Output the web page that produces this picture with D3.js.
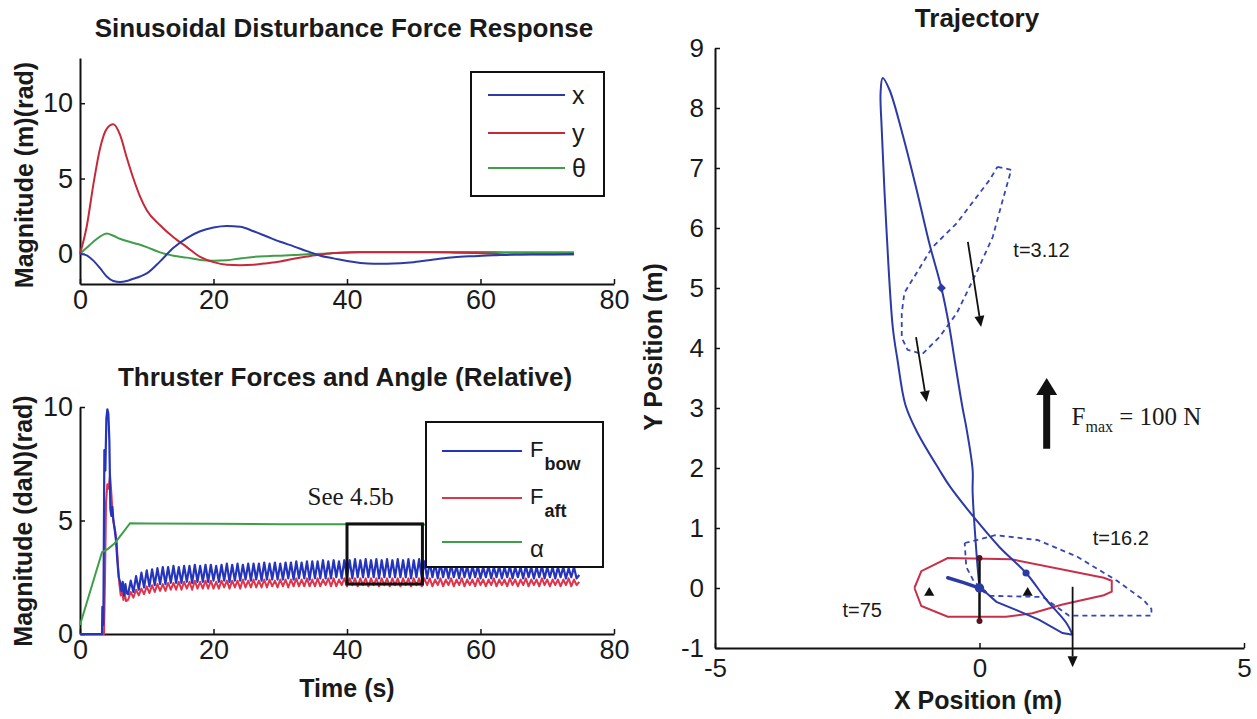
<!DOCTYPE html>
<html>
<head>
<meta charset="utf-8">
<script src="https://cdn.jsdelivr.net/npm/d3@7"></script>
<style>
  body { margin: 0; background: #ffffff; }
  svg { display: block; }
</style>
</head>
<body>
<svg id="fig" width="1257" height="719"></svg>
<script>
// ---------- Sinusoidal disturbance response (m, rad) ----------
const respTime  = [0,1,2,3,4,5,6,7,8,9,10,12,14,16,18,20,22,24,26,28,30,32,34,36,38,40,42,44,46,48,50,53,56,59,62,65,68,71,74];
const respX     = [0,-0.1,-0.45,-0.95,-1.5,-1.8,-1.87,-1.8,-1.65,-1.5,-1.3,-0.5,0.4,1.05,1.5,1.75,1.85,1.8,1.5,1.15,0.8,0.5,0.18,-0.12,-0.3,-0.48,-0.6,-0.65,-0.65,-0.62,-0.55,-0.38,-0.22,-0.15,-0.1,-0.05,-0.03,-0.02,0];
const respY     = [0,1.8,4.6,7.0,8.3,8.6,7.9,6.4,5.0,3.8,2.9,1.9,1.1,0.45,-0.2,-0.55,-0.72,-0.75,-0.72,-0.62,-0.5,-0.32,-0.18,-0.05,0.05,0.08,0.1,0.1,0.1,0.1,0.1,0.1,0.08,0.05,0.0,-0.05,-0.05,-0.05,-0.05];
const respTheta = [0,0.4,0.8,1.15,1.35,1.2,1.0,0.85,0.72,0.6,0.45,0.1,-0.12,-0.25,-0.4,-0.45,-0.42,-0.3,-0.2,-0.15,-0.12,-0.08,-0.03,0.0,0.05,0.1,0.12,0.12,0.12,0.12,0.12,0.12,0.12,0.12,0.12,0.1,0.1,0.1,0.1];
const respLegend = ["x", "y", "\u03B8"];
const timeTicks = [0, 20, 40, 60, 80];
const respYTicks = [0, 5, 10];

// ---------- Thruster forces (daN) and angle (rad) ----------
const bowTime = [0,3.3,3.35,3.5,3.65,3.8,3.95,4.1,4.25,4.4,4.55,4.7,4.85,5.0,5.2,5.4,5.6,5.8,6.0,6.2,6.4,6.6,6.8,7.0];
const bowVal  = [0,0,1.2,0.4,8.1,7.2,9.5,9.9,9.7,8.5,5.5,5.2,5.6,5.0,4.6,4.1,3.2,2.5,2.3,1.9,2.3,1.7,2.2,1.8];
const aftTime = [0,3.6,3.75,3.9,4.1,4.3,4.5,4.7,4.9,5.1,5.3,5.5,5.7,5.9,6.1,6.3,6.5,6.7,6.9];
const aftVal  = [0,0,2.5,5.8,6.6,6.4,7.0,6.2,5.2,4.8,4.5,4.0,3.0,2.2,1.7,1.9,1.5,1.8,1.45];
// steady oscillation, sampled every oscStep seconds from oscStart
const oscStart = 7.2;
const oscStep = 0.4;
const bowOsc = [
  1.75,2.35,1.85,2.55,1.95,2.7,2.05,2.8,2.1,2.85,
  2.15,2.9,2.2,2.95,2.2,2.95,2.25,3.0,2.25,2.95,
  2.25,3.0,2.3,3.0,2.25,3.05,2.3,3.0,2.3,3.05,
  2.3,3.05,2.35,3.0,2.3,3.05,2.35,3.1,2.3,3.05,
  2.35,3.1,2.35,3.05,2.4,3.1,2.35,3.1,2.4,3.1,
  2.35,3.15,2.4,3.1,2.4,3.15,2.4,3.1,2.4,3.15,
  2.45,3.15,2.4,3.2,2.45,3.15,2.45,3.2,2.4,3.2,
  2.45,3.2,2.45,3.25,2.45,3.2,2.45,3.25,2.5,3.2,
  2.45,3.25,2.5,3.25,2.45,3.3,2.5,3.25,2.5,3.3,
  2.5,3.25,2.5,3.3,2.45,3.25,2.5,3.3,2.5,3.25,
  2.5,3.3,2.5,3.25,2.5,3.3,2.45,3.25,2.5,3.3,
  2.5,3.2,2.45,3.15,2.5,3.1,2.45,3.1,2.5,3.05,
  2.45,3.05,2.5,3.0,2.45,3.05,2.5,3.0,2.45,3.0,
  2.5,3.0,2.45,2.95,2.5,3.0,2.45,2.95,2.5,3.0,
  2.45,2.95,2.5,3.0,2.45,2.95,2.5,2.95,2.45,3.0,
  2.5,2.95,2.45,2.95,2.5,3.0,2.45,2.95,2.5,2.95,
  2.45,2.95,2.5,2.95,2.45,2.9,2.5,2.95,2.45,2.6
];
const aftOsc = [
  1.5,1.85,1.6,1.95,1.7,2.0,1.75,2.1,1.8,2.15,
  1.85,2.2,1.9,2.2,1.9,2.25,1.95,2.25,1.95,2.3,
  1.95,2.3,2.0,2.3,1.95,2.35,2.0,2.3,2.0,2.35,
  2.0,2.35,2.0,2.3,2.0,2.35,2.05,2.35,2.0,2.35,
  2.05,2.35,2.0,2.4,2.05,2.35,2.05,2.4,2.05,2.35,
  2.05,2.4,2.05,2.4,2.1,2.35,2.05,2.4,2.1,2.4,
  2.05,2.4,2.1,2.45,2.1,2.4,2.1,2.45,2.1,2.4,
  2.1,2.45,2.1,2.4,2.15,2.45,2.1,2.45,2.1,2.4,
  2.15,2.45,2.1,2.45,2.15,2.45,2.1,2.45,2.15,2.45,
  2.1,2.45,2.15,2.45,2.1,2.45,2.15,2.45,2.1,2.45,
  2.15,2.45,2.1,2.45,2.15,2.45,2.1,2.45,2.15,2.45,
  2.1,2.45,2.15,2.45,2.1,2.4,2.15,2.45,2.1,2.4,
  2.15,2.45,2.1,2.4,2.15,2.45,2.1,2.4,2.15,2.4,
  2.1,2.45,2.15,2.4,2.1,2.4,2.15,2.45,2.1,2.4,
  2.15,2.4,2.1,2.45,2.15,2.4,2.1,2.4,2.15,2.45,
  2.1,2.4,2.15,2.4,2.1,2.45,2.15,2.4,2.1,2.4,
  2.15,2.4,2.1,2.4,2.15,2.45,2.1,2.4,2.15,2.3
];
const alphaTime = [0,3.3,4.2,5.2,6.4,7.5,10,20,30,40,50,60,74.8];
const alphaVal  = [0.4,3.6,3.75,4.0,4.45,4.88,4.87,4.86,4.84,4.83,4.82,4.81,4.8];
const thrustYTicks = [0, 5, 10];
const thrustLegend = [["F", "bow"], ["F", "aft"], ["\u03B1", ""]];
// zoom window marked "See 4.5b": [t0, t1] x [v0, v1]
const zoomBoxT = [40, 51.3];
const zoomBoxV = [2.2, 4.85];
const zoomNote = { t: 34.1, v: 5.68, text: "See 4.5b" };

// ---------- Trajectory (m) ----------
const pathX = [0,-0.05,-0.13,-0.13,-0.25,-0.32,-0.47,-0.57,-0.72,-0.95,-1.2,-1.46,-1.7,-1.83,-1.87,-1.85,-1.76,-1.64,-1.55,-1.4,-1.18,-0.76,-0.55,-0.06,0.38,0.88,1.27,1.64,1.76];
const pathY = [0,0.5,1.6,1.97,2.68,3.0,3.8,4.35,5.0,5.75,6.68,7.58,8.3,8.5,8.25,7.68,6.0,4.35,3.8,3.05,2.6,1.97,1.68,1.13,0.68,0.25,-0.2,-0.58,-0.78];
const returnX = [1.76,1.57,1.13,0.7,0.32,0.1];
const returnY = [-0.78,-0.75,-0.53,-0.37,-0.23,-0.06];
const settleX = [0.1,0,-0.3,-0.6];
const settleY = [-0.06,0,0.09,0.17];
// vessel outline at t=75 (solid) and at t=3.12, t=16.2 (dashed)
const hullX = [-1.23,-1.1,-0.6,0.6,2.35,2.5,2.5,2.35,1.55,1.0,0.5,-0.6,-1.1,-1.23];
const hullY = [0,0.28,0.5,0.48,0.17,0.12,-0.06,-0.12,-0.28,-0.42,-0.48,-0.48,-0.3,0];
const hull312X = [0.34,0.6,0.44,0.25,-0.06,-0.43,-0.76,-1.08,-1.36,-1.47,-1.47,-1.42,-0.89,-0.43,0.19,0.34];
const hull312Y = [7.02,6.97,6.47,5.85,5.25,4.58,4.18,3.9,3.97,4.17,4.58,4.92,5.68,6.08,6.8,7.02];
const hull162X = [-0.28,0.3,1.1,1.85,2.6,3.1,3.25,3.25,1.69,1.2,0.2,-0.1,-0.25,-0.28];
const hull162Y = [0.75,0.88,0.8,0.52,0.12,-0.2,-0.35,-0.46,-0.46,-0.15,-0.13,0.1,0.35,0.75];
const thrusterX = [-0.95, 0.91];
const thrusterY = [-0.08, -0.08];
const markX = [-0.72, 0.88, 0];
const markY = [5.0, 0.25, 0];
// thrust vectors: start (x, y) -> end (x, y)
const forceFromX = [-0.22, -1.2, 1.76];
const forceFromY = [5.77, 4.18, 0.02];
const forceToX   = [0.03, -1.0, 1.76];
const forceToY   = [4.35, 3.1, -1.32];
const centreLineX = [0, 0];
const centreLineY = [0.5, -0.55];
const scaleArrow = { x: 1.27, y0: 2.32, y1: 3.5 };
const scaleNote = { x: 1.74, y: 2.72 };
const timeNotes = [
  { x: 0.64, y: 5.52, text: "t=3.12" },
  { x: 2.14, y: 0.72, text: "t=16.2" },
  { x: -2.59, y: -0.48, text: "t=75" }
];
const trajXTicks = [-5, 0, 5];
const trajYTicks = [-1, 0, 1, 2, 3, 4, 5, 6, 7, 8, 9];

// ---------- drawing ----------
const SANS = '"Liberation Sans", Arial, Helvetica, sans-serif';
const NARROW = '"Liberation Sans Narrow", "Arial Narrow", "Liberation Sans", Arial, sans-serif';
const SERIF = '"Liberation Serif", "Times New Roman", serif';
const BLUE = "#2c3aa6", RED = "#c62a3a", GREEN = "#3f9e48";
const BOW = "#2434bc", AFT = "#e0344a", HULL = "#c8304a", DASH = "#3646b4";
const INK = "#111";

const svg = d3.select("#fig");
const plain = d => String(d);

function styleAxis(g, size) {
  g.attr("font-family", null).attr("font-size", null);
  g.select(".domain").attr("stroke", INK).attr("stroke-width", 2);
  g.selectAll(".tick line").attr("stroke", INK).attr("stroke-width", 1.5);
  g.selectAll(".tick text").attr("fill", "#1a1a1a")
    .style("font-family", NARROW).style("font-size", size + "px");
}

function title(x, y, txt) {
  svg.append("text").attr("x", x).attr("y", y).attr("text-anchor", "middle")
    .style("font-family", SANS).style("font-weight", "bold").style("font-size", "26px")
    .attr("fill", "#1a1a1a").text(txt);
}
function label(x, y, txt, rotate) {
  svg.append("text")
    .attr("transform", `translate(${x},${y})` + (rotate ? " rotate(-90)" : ""))
    .attr("text-anchor", "middle")
    .style("font-family", SANS).style("font-weight", "bold").style("font-size", "25px")
    .attr("fill", "#1a1a1a").text(txt);
}

const zip = (a, b) => a.map((v, i) => [v, b[i]]);

// ===== Panel 1: response =====
const rx = d3.scaleLinear([0, 80], [80, 614]);
const ry = d3.scaleLinear([-2, 13], [284, 58]);
const rLine = d3.line().x(d => rx(d[0])).y(d => ry(d[1])).curve(d3.curveMonotoneX);

svg.append("g").attr("transform", `translate(0,${ry(-2)})`)
  .call(d3.axisBottom(rx).tickValues(timeTicks).tickSizeInner(-5).tickSizeOuter(0).tickPadding(6).tickFormat(plain))
  .call(g => styleAxis(g, 27));
svg.append("g").attr("transform", `translate(${rx(0)},0)`)
  .call(d3.axisLeft(ry).tickValues(respYTicks).tickSizeInner(-5).tickSizeOuter(0).tickPadding(7).tickFormat(plain))
  .call(g => styleAxis(g, 27));

[[respTheta, GREEN], [respY, RED], [respX, BLUE]].forEach(([vals, col]) => {
  svg.append("path").datum(zip(respTime, vals)).attr("d", rLine)
    .attr("fill", "none").attr("stroke", col).attr("stroke-width", 2).attr("stroke-linejoin", "round");
});

title(344, 37, "Sinusoidal Disturbance Force Response");
label(33, 175, "Magnitude (m)(rad)", true);

// legend
{
  const lg = svg.append("g");
  lg.append("rect").attr("x", 471).attr("y", 72).attr("width", 133).attr("height", 124)
    .attr("fill", "#fff").attr("stroke", INK).attr("stroke-width", 2);
  const rows = [95, 133, 168];
  const cols = [BLUE, RED, GREEN];
  respLegend.forEach((name, i) => {
    lg.append("line").attr("x1", 488).attr("x2", 565).attr("y1", rows[i]).attr("y2", rows[i])
      .attr("stroke", cols[i]).attr("stroke-width", 2);
    lg.append("text").attr("x", 572).attr("y", rows[i] + 9)
      .style("font-family", SANS).style("font-size", "25px").attr("fill", "#1a1a1a").text(name);
  });
}

// ===== Panel 2: thruster forces =====
const tx = d3.scaleLinear([0, 80], [80, 614]);
const ty = d3.scaleLinear([0, 10], [634, 407]);
const tLine = d3.line().x(d => tx(d[0])).y(d => ty(d[1]));

svg.append("g").attr("transform", `translate(0,${ty(0)})`)
  .call(d3.axisBottom(tx).tickValues(timeTicks).tickSizeInner(-5).tickSizeOuter(0).tickPadding(6).tickFormat(plain))
  .call(g => styleAxis(g, 27));
svg.append("g").attr("transform", `translate(${tx(0)},0)`)
  .call(d3.axisLeft(ty).tickValues(thrustYTicks).tickSizeInner(-5).tickSizeOuter(0).tickPadding(7).tickFormat(plain))
  .call(g => styleAxis(g, 27));

const bowSeries = zip(bowTime, bowVal).concat(bowOsc.map((v, i) => [oscStart + i * oscStep, v]));
const aftSeries = zip(aftTime, aftVal).concat(aftOsc.map((v, i) => [oscStart + i * oscStep, v]));

svg.append("path").datum(aftSeries).attr("d", tLine)
  .attr("fill", "none").attr("stroke", AFT).attr("stroke-width", 2).attr("stroke-linejoin", "round");
svg.append("path").datum(bowSeries).attr("d", tLine)
  .attr("fill", "none").attr("stroke", BOW).attr("stroke-width", 2.2).attr("stroke-linejoin", "round");
svg.append("path").datum(zip(alphaTime, alphaVal)).attr("d", tLine)
  .attr("fill", "none").attr("stroke", GREEN).attr("stroke-width", 2);

// marked zoom window
svg.append("rect")
  .attr("x", tx(zoomBoxT[0])).attr("y", ty(zoomBoxV[1]))
  .attr("width", tx(zoomBoxT[1]) - tx(zoomBoxT[0])).attr("height", ty(zoomBoxV[0]) - ty(zoomBoxV[1]))
  .attr("fill", "none").attr("stroke", INK).attr("stroke-width", 3);
svg.append("text").attr("x", tx(zoomNote.t)).attr("y", ty(zoomNote.v))
  .style("font-family", SERIF).style("font-size", "25px").attr("fill", "#1a1a1a").text(zoomNote.text);

title(345, 386, "Thruster Forces and Angle (Relative)");
label(32, 521, "Magnitude (daN)(rad)", true);
label(347, 697, "Time (s)", false);

// legend
{
  const lg = svg.append("g");
  lg.append("rect").attr("x", 426).attr("y", 422).attr("width", 177).attr("height", 145)
    .attr("fill", "#fff").attr("stroke", INK).attr("stroke-width", 2);
  const rows = [451, 498, 542];
  const cols = [BOW, AFT, GREEN];
  thrustLegend.forEach(([main, sub], i) => {
    lg.append("line").attr("x1", 442).attr("x2", 522).attr("y1", rows[i]).attr("y2", rows[i])
      .attr("stroke", cols[i]).attr("stroke-width", 2);
    if (sub) {
      const t = lg.append("text").attr("x", 530).attr("y", rows[i] + 6)
        .style("font-family", SANS).attr("fill", "#1a1a1a");
      t.append("tspan").style("font-size", "22px").text(main);
      t.append("tspan").attr("dx", 1).attr("dy", 13)
        .style("font-size", "18px").style("font-weight", "bold").text(sub);
    } else {
      lg.append("text").attr("x", 530).attr("y", rows[i] + 15)
        .style("font-family", SANS).style("font-size", "24px").attr("fill", "#1a1a1a").text(main);
    }
  });
}

// ===== Panel 3: trajectory =====
const px = d3.scaleLinear([-5, 5], [715, 1244]);
const py = d3.scaleLinear([-1, 9], [648, 48]);
const pLine = d3.line().x(d => px(d[0])).y(d => py(d[1]));
const pCurve = d3.line().x(d => px(d[0])).y(d => py(d[1])).curve(d3.curveCatmullRom.alpha(0.5));

svg.append("g").attr("transform", `translate(0,${py(-1)})`)
  .call(d3.axisBottom(px).tickValues(trajXTicks).tickSizeInner(-5).tickSizeOuter(0).tickPadding(11).tickFormat(plain))
  .call(g => styleAxis(g, 26));
svg.append("g").attr("transform", `translate(${px(-5)},0)`)
  .call(d3.axisLeft(py).tickValues(trajYTicks).tickSizeInner(-5).tickSizeOuter(0).tickPadding(11).tickFormat(plain))
  .call(g => styleAxis(g, 26));

// vessel outlines
[[hull312X, hull312Y], [hull162X, hull162Y]].forEach(([xs, ys]) => {
  svg.append("path").datum(zip(xs, ys)).attr("d", pLine)
    .attr("fill", "none").attr("stroke", DASH).attr("stroke-width", 1.8).attr("stroke-dasharray", "5,4");
});
svg.append("path").datum(zip(hullX, hullY)).attr("d", pLine)
  .attr("fill", "none").attr("stroke", HULL).attr("stroke-width", 2);

// path of the vessel
svg.append("path").datum(zip(pathX, pathY)).attr("d", pCurve)
  .attr("fill", "none").attr("stroke", BLUE).attr("stroke-width", 2);
svg.append("path").datum(zip(returnX, returnY)).attr("d", pLine)
  .attr("fill", "none").attr("stroke", BLUE).attr("stroke-width", 2);
svg.append("path").datum(zip(settleX, settleY)).attr("d", pLine)
  .attr("fill", "none").attr("stroke", BLUE).attr("stroke-width", 3.5).attr("stroke-linecap", "round");

// centre thrust line
svg.append("path").datum(zip(centreLineX, centreLineY)).attr("d", pLine)
  .attr("stroke", INK).attr("stroke-width", 2.5);
svg.selectAll(".cdot").data(zip(centreLineX, centreLineY)).join("circle")
  .attr("cx", d => px(d[0])).attr("cy", d => py(d[1])).attr("r", 3).attr("fill", "#5a1420");

// thruster positions
svg.selectAll(".thr").data(zip(thrusterX, thrusterY)).join("path")
  .attr("transform", d => `translate(${px(d[0])},${py(d[1])})`)
  .attr("d", d3.symbol(d3.symbolTriangle, 45)).attr("fill", INK);

// markers on the path
svg.selectAll(".mk").data(zip(markX, markY)).join("path")
  .attr("transform", (d, i) => `translate(${px(d[0])},${py(d[1])})` + (i === 0 ? " rotate(45)" : ""))
  .attr("d", (d, i) => d3.symbol(i === 0 ? d3.symbolSquare : d3.symbolCircle, i === 2 ? 70 : 40)())
  .attr("fill", BLUE);

// thrust vectors
forceFromX.forEach((x0, i) => {
  const x1 = px(x0), y1 = py(forceFromY[i]);
  const x2 = px(forceToX[i]), y2 = py(forceToY[i]);
  const ang = Math.atan2(y2 - y1, x2 - x1);
  const len = 11, half = 5;
  const bx = x2 - len * Math.cos(ang), by = y2 - len * Math.sin(ang);
  const nx = -Math.sin(ang) * half, ny = Math.cos(ang) * half;
  svg.append("line").attr("x1", x1).attr("y1", y1).attr("x2", bx).attr("y2", by)
    .attr("stroke", INK).attr("stroke-width", 1.8);
  svg.append("path").attr("d", `M${x2},${y2}L${bx + nx},${by + ny}L${bx - nx},${by - ny}Z`).attr("fill", INK);
});

// force scale arrow
{
  const cx = px(scaleArrow.x), yb = py(scaleArrow.y0), yt = py(scaleArrow.y1);
  const headH = 17, headW = 10.5, shaft = 3.5;
  svg.append("path")
    .attr("d", `M${cx - shaft},${yb}V${yt + headH}H${cx - headW}L${cx},${yt}L${cx + headW},${yt + headH}H${cx + shaft}V${yb}Z`)
    .attr("fill", INK);
  const t = svg.append("text").attr("x", px(scaleNote.x)).attr("y", py(scaleNote.y))
    .style("font-family", SERIF).attr("fill", "#1a1a1a");
  t.append("tspan").style("font-size", "25px").text("F");
  t.append("tspan").attr("dy", 7).style("font-size", "16px").text("max");
  t.append("tspan").attr("dy", -7).style("font-size", "25px").text(" = 100 N");
}

// time labels
svg.selectAll(".tn").data(timeNotes).join("text")
  .attr("x", d => px(d.x)).attr("y", d => py(d.y))
  .style("font-family", SANS).style("font-size", "20px").attr("fill", "#1a1a1a")
  .text(d => d.text);

title(977, 27, "Trajectory");
label(662, 347, "Y Position (m)", true);
label(978, 709, "X Position (m)", false);
</script>
</body>
</html>
